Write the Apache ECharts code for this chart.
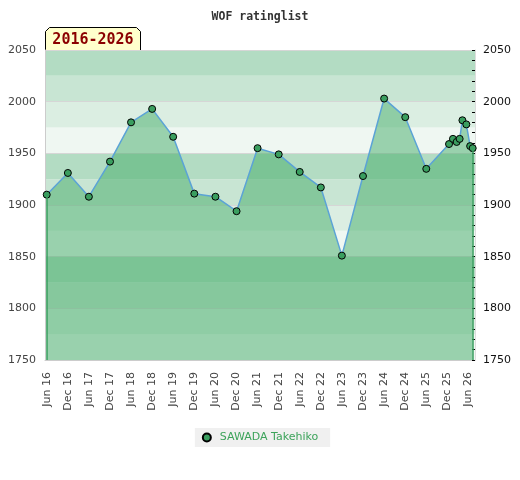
<!DOCTYPE html>
<html>
<head>
<meta charset="utf-8">
<script src="https://cdn.jsdelivr.net/npm/echarts@6/dist/echarts.min.js"></script>
<style>html,body{margin:0;padding:0;background:#fff}#c{width:520px;height:480px}</style>
</head>
<body>
<div id="c"></div>
<script>
const titleText = 'WOF ratinglist';
const periodText = '2016-2026';
const playerName = 'SAWADA Takehiko';
const listDates = ['2016-06-01','2016-12-01','2017-06-01','2017-12-01','2018-06-01','2018-12-01','2019-06-01','2019-12-01','2020-06-01','2020-12-01','2021-06-01','2021-12-01','2022-06-01','2022-12-01','2023-06-01','2023-12-01','2024-06-01','2024-12-01','2025-06-01','2025-12-15','2026-01-18','2026-02-19','2026-03-17','2026-04-10','2026-05-14','2026-06-16','2026-07-08'];
const ratings = [1910,1931,1908,1942,1980,1993,1966,1911,1908,1894,1955,1949,1932,1917,1851,1928,2003,1985,1935,1959,1964,1961,1964,1982,1978,1957,1955];
const tickDates = ['2016-06-01','2016-12-01','2017-06-01','2017-12-01','2018-06-01','2018-12-01','2019-06-01','2019-12-01','2020-06-01','2020-12-01','2021-06-01','2021-12-01','2022-06-01','2022-12-01','2023-06-01','2023-12-01','2024-06-01','2024-12-01','2025-06-01','2025-12-01','2026-06-01'];
const xRange = ['2016-05-17','2026-07-28'];
const yMin = 1750, yMax = 2050;
const bandColors = ['#eff7f2','#dbeee2','#c8e5d3','#b3dcc3'];

const ts = s => Date.parse(s + 'T00:00:00Z');
const monthNames = ['Jan','Feb','Mar','Apr','May','Jun','Jul','Aug','Sep','Oct','Nov','Dec'];
const fmt = v => { const d = new Date(v); return monthNames[d.getUTCMonth()] + ' ' + String(d.getUTCFullYear()).slice(2); };
const seriesData = listDates.map((d, i) => [ts(d), ratings[i]]);
const first = seriesData[0], last = seriesData[seriesData.length - 1];
const plain = v => String(v);

const chart = echarts.init(document.getElementById('c'), null, {renderer: 'canvas'});
chart.setOption({
  animation: false,
  backgroundColor: '#fff',
  title: {
    text: titleText, left: 'center', top: 6,
    textStyle: {fontFamily: 'DejaVu Sans Mono', fontWeight: 'bold', fontSize: 11.5, color: '#333'}
  },
  grid: {left: 45, right: 45, top: 50, bottom: 120},
  xAxis: {
    type: 'value', min: ts(xRange[0]), max: ts(xRange[1]),
    axisLine: {show: true, lineStyle: {color: '#ccc'}},
    axisTick: {show: false},
    splitLine: {show: false},
    axisLabel: {
      customValues: tickDates.map(ts), formatter: fmt, rotate: 90, margin: 12,
      fontFamily: 'DejaVu Sans', fontSize: 11, color: '#444'
    }
  },
  yAxis: [
    {
      type: 'value', min: yMin, max: yMax, interval: 25, position: 'left',
      axisLine: {show: false}, axisTick: {show: false}, axisLabel: {show: false},
      splitLine: {show: false},
      splitArea: {show: true, areaStyle: {color: bandColors}}
    },
    {
      type: 'value', min: yMin, max: yMax, interval: 50, position: 'left',
      axisLine: {show: true, lineStyle: {color: '#ccc'}},
      axisTick: {show: false},
      axisLabel: {margin: 9, fontFamily: 'DejaVu Sans', fontSize: 11, color: '#444', formatter: plain},
      splitLine: {show: true, lineStyle: {color: '#d6d6d6', width: 1}}
    },
    {
      type: 'value', min: yMin, max: yMax, interval: 50, position: 'right',
      axisLine: {show: true, lineStyle: {color: '#ddd'}},
      axisTick: {show: false},
      axisLabel: {margin: 8, fontFamily: 'DejaVu Sans', fontSize: 11, color: '#111', formatter: plain},
      splitLine: {show: false}
    },
    {
      type: 'value', min: yMin, max: yMax, interval: 10, position: 'right',
      axisLine: {show: false},
      axisTick: {show: true, inside: true, length: 3, lineStyle: {color: '#000'}},
      axisLabel: {show: false},
      splitLine: {show: false}
    }
  ],
  legend: {
    bottom: 33, left: 'center',
    backgroundColor: '#f0f0f0', padding: [4, 12, 4, 7],
    itemWidth: 8, itemHeight: 8, itemGap: 10,
    icon: 'circle',
    textStyle: {fontFamily: 'DejaVu Sans', fontSize: 11, color: '#3ca35a', padding: [0, 0, 0, 4]},
    data: [playerName]
  },
  series: [{
    name: playerName, type: 'line', yAxisIndex: 1,
    data: seriesData,
    symbol: 'circle', symbolSize: 7,
    itemStyle: {color: '#3a9e5f', borderColor: '#000', borderWidth: 1},
    lineStyle: {color: '#5ba3d6', width: 1.5},
    areaStyle: {color: 'rgba(67,171,104,0.5)', opacity: 1, origin: 'start'},
    markLine: {
      silent: true, symbol: ['none', 'none'], label: {show: false},
      lineStyle: {color: '#3a9e5f', width: 1.5, type: 'solid'},
      data: [
        [{coord: [first[0], first[1]]}, {coord: [first[0], yMin]}],
        [{coord: [last[0], last[1]]}, {coord: [last[0], yMin]}]
      ]
    },
    z: 3
  }],
  graphic: [{
    type: 'group', left: 45, top: 27, z: 100,
    children: [
      {type: 'polygon', shape: {points: [[0,24],[0,4],[4,0],[91,0],[95,4],[95,24]]},
       style: {fill: '#ffffcc', stroke: '#000', lineWidth: 1}},
      {type: 'text', x: 47.5, y: 12.5,
       style: {text: periodText, fill: '#8b0000', font: 'bold 15px "DejaVu Sans Mono"', textAlign: 'center', textVerticalAlign: 'middle'}}
    ]
  }]
});
</script>
</body>
</html>
